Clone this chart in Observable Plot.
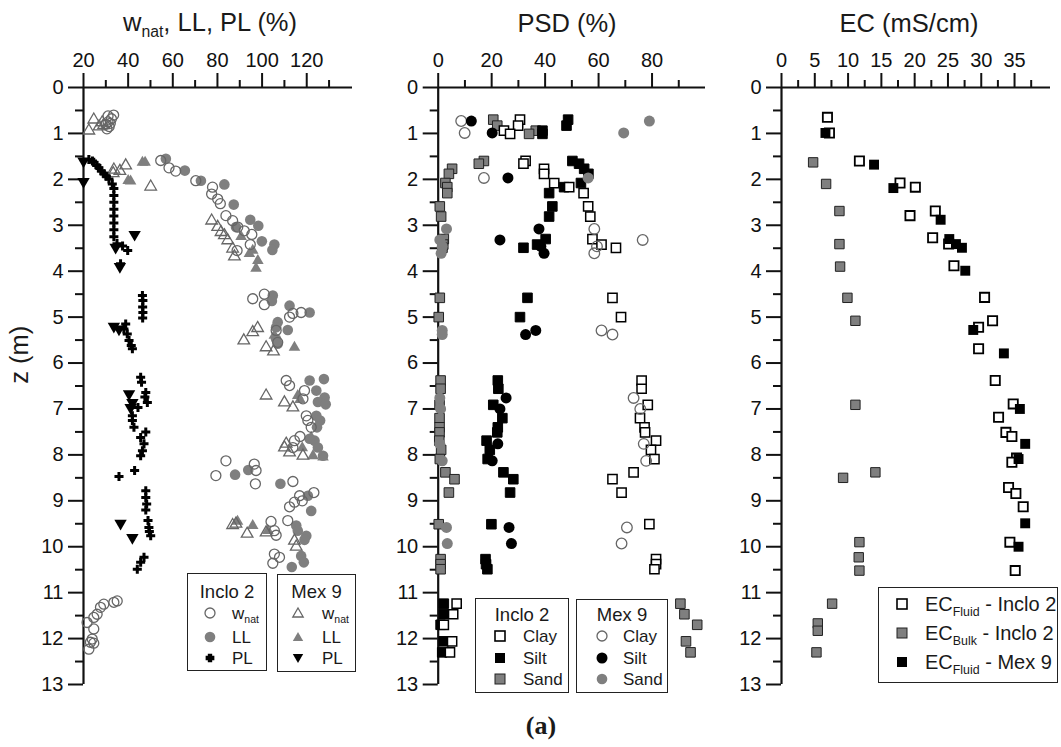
<!DOCTYPE html>
<html><head><meta charset="utf-8">
<script src="https://cdn.jsdelivr.net/npm/d3@7"></script>
<script src="https://cdn.jsdelivr.net/npm/@observablehq/plot@0.6"></script>
<style>
body{margin:0;background:#fff;}
#wrap{position:relative;width:1061px;height:747px;overflow:hidden;font-family:"Liberation Sans",Arial,sans-serif;color:#1a1a1a;background:#fff;}
#wrap svg.plot{position:absolute;top:0;}
#wrap svg.plot text{font-size:20px;font-family:"Liberation Sans",Arial,sans-serif;}
.t{position:absolute;white-space:nowrap;line-height:1;}
.sub{font-size:0.62em;position:relative;top:0.38em;}
.box{position:absolute;border:1.5px solid #222;background:#fff;box-sizing:border-box;}
.sym{position:absolute;width:16px;height:16px;overflow:visible;}
</style>
</head><body><div id="wrap"></div>
<script>
// ---------------- Panel 1: w_nat, LL, PL (%) vs depth z (m) ----------------
const inclo2Wnat = [[31,0.62],[32.5,0.68],[33.5,0.6],[31,0.75],[30,0.8],[31.5,0.85],[30.5,0.9],[32,0.78],
 [54.6,1.59],[58.3,1.75],[61.3,1.82],[70.3,2.03],[77.8,2.17],[77.4,2.32],[80.1,2.43],[81.3,2.53],[83.8,2.79],[86.8,2.9],[89.1,3.04],[92,3.12],[95.4,3.2],[94.7,3.42],[88.8,3.55],
 [95.8,4.6],[101,4.5],[101,4.73],[113.8,4.92],[117.5,4.9],[112.3,5.0],[106.3,5.29],[107,5.55],
 [110.8,6.38],[112.3,6.49],[119,6.6],[118.3,6.78],[119.8,7.15],[120.5,7.25],[122,7.4],[114.5,7.69],[113.8,7.84],[117,7.6],
 [83.8,8.13],[79.3,8.45],[96.5,8.2],[97.3,8.34],[97,8.63],[113.8,8.58],
 [123.2,8.82],[116.8,8.89],[114.5,9.03],[112.3,9.13],[118,9.0],
 [111.5,9.43],[104,9.45],[106.3,9.75],[105.5,9.65],
 [105.5,10.16],[104.8,10.36],[107.8,10.23],
 [35.1,11.18],[33.6,11.21],[29.1,11.25],[27.6,11.32],[26.1,11.47],[24.6,11.54],[21.6,11.65],[24.6,11.79],[23.9,12.01],[23.1,12.08],[24.6,12.1],[22.4,12.23]];
const inclo2LL = [[56.9,1.55],[65.4,1.81],[72.6,2.03],[83.1,2.11],[87.3,2.55],[88.3,3.04],[94.7,2.88],[98.3,3.01],[99.9,3.35],[105.5,3.42],[104.6,3.54],
 [104.8,4.53],[104.4,4.65],[112.3,4.75],[121.3,4.9],[107,5.11],[111.5,5.28],[106.3,5.22],[106.3,5.48],[107,5.58],
 [121.3,6.38],[127.7,6.35],[124.3,6.6],[128,6.75],[125,6.85],[128.5,6.9],[124.3,7.15],[124.6,7.4],[123.5,7.69],[125,7.84],[127.3,8.02],[121.3,7.65],[126,7.25],
 [87.9,8.43],[93.8,8.33],[108.2,8.63],
 [120.5,8.89],[122,9.22],
 [115.3,9.54],[116,9.65],[119.8,9.76],[119,9.85],
 [117.5,10.2],[118.7,10.34],[113.3,10.44]];
const inclo2PL = [[22.4,1.57],[24,1.6],[24.6,1.63],[26,1.7],[26.9,1.75],[28,1.82],[29.1,1.88],[30.2,1.93],[31.4,1.99],[32.9,2.1],
 [33.6,2.2],[33.6,2.35],[33.6,2.5],[33.6,2.65],[33.6,2.8],[33.6,2.95],[33.6,3.1],[33.6,3.25],
 [35,3.4],[37.5,3.45],[39.8,3.55],[36.6,3.84],
 [46.4,4.53],[46.6,4.64],[46.5,4.78],[46.6,4.9],[46.5,5.02],
 [38.9,5.15],[38.1,5.26],[39.6,5.37],[40.4,5.51],[41.4,5.62],[41.9,5.69],
 [45.6,6.31],[46,6.42],[47.9,6.64],[47.5,6.74],[48.6,6.86],[44.4,6.97],[41.9,7.15],[41.9,7.25],[42.6,7.4],[47.9,7.5],[45.6,7.62],[47.1,7.76],[46.4,7.91],[45.6,8.02],
 [35.9,8.47],[42.9,8.34],
 [47.9,8.78],[47.9,8.93],[48.3,9.07],[47.9,9.2],[48.9,9.43],[49.3,9.58],[49.5,9.67],[50.1,9.76],
 [47.1,10.23],[45.6,10.34],[44.1,10.49]];
const mex9Wnat = [[24.6,0.7],[22.4,0.94],[28.4,0.76],[29,0.82],[27,0.85],
 [33.6,1.79],[36.3,1.82],[38.9,1.7],[33.3,1.87],[50.1,2.16],
 [77.4,2.9],[80.1,3.04],[81.6,3.15],[83.1,3.22],[84.6,3.33],[86.8,3.51],[87.6,3.68],
 [91.8,5.51],[95.8,5.33],[98,5.24],[101.8,5.66],[105.1,5.75],
 [101.8,6.71],[110,6.86],[113.8,6.97],[110,7.84],[112.3,7.95],[110.8,7.76],[118.3,8.02],
 [88.3,9.5],[86.8,9.53],[93.3,9.72],[101.8,9.69],[114.5,9.87],[115.3,10.0]];
const mex9LL = [[46.4,1.63],[47.6,1.63],[41.1,2.04],[40,2.03],
 [90.6,3.25],[94.3,3.62],[95.8,3.55],[98.1,3.77],[97.3,3.94],
 [114.5,5.66],[105.5,5.4],
 [116,6.71],[117,6.8],[122,7.62],[122.8,8.02],[127.3,8.05],[118,7.85],
 [95.8,9.54],[102.6,9.65],[89,9.45]];
const mex9PL = [[20,1.6],[20,2.05],[42.9,3.2],[34.4,3.48],[36.3,3.9],[33.6,5.2],[35.9,5.26],[40.4,6.67],[41.9,6.86],[41.1,6.97],[36.6,9.49],[41.9,9.8]];

// ---------------- Panel 2: PSD (%) ----------------
const inclo2Depth = [0.70,0.83,0.94,1.01,1.60,1.66,1.77,1.88,2.08,2.17,2.30,2.59,2.81,3.30,3.42,3.49,4.58,5.00,6.38,6.56,6.91,7.20,7.40,7.51,7.69,7.89,8.09,8.38,8.53,8.82,9.51,10.27,10.38,10.49,11.24,11.47,11.70,12.06,12.30];
const inclo2Clay  = [30.6,29.9,24.6,26.9,32.7,31.9,39.6,39.6,43.4,49.0,54.4,56.1,56.9,57.7,61.1,66.5,65.2,68.4,76.1,76.1,78.4,75.5,77.2,77.4,81.5,79.6,80.9,73.1,65.2,68.6,79.0,81.5,81.5,80.9,6.9,5.6,2.1,5.2,4.4];
const inclo2Silt  = [48.6,48.0,39.0,39.0,50.2,52.7,54.6,56.2,53.4,47.1,41.5,42.7,41.5,40.2,37.0,31.9,33.4,30.6,22.3,22.5,20.6,24.0,22.3,22.1,18.1,19.3,18.5,24.4,28.1,26.9,19.9,17.7,17.9,18.4,2.1,2.1,0.9,2.1,1.5];
const inclo2Sand  = [20.6,22.1,36.5,34.0,17.1,15.2,5.2,4.0,2.7,3.4,3.4,0.6,1.1,2.1,1.9,1.6,0.6,0.2,0.9,0.9,0.5,0.5,0.5,0.5,0.4,1.1,0.6,2.7,6.1,4.0,0.2,0.9,0.9,0.9,90.6,92.1,96.9,92.7,94.4];
const mex9Depth = [0.73,0.99,1.97,3.08,3.32,3.46,3.61,5.29,5.38,6.76,7.00,7.76,8.13,9.58,9.93];
const mex9Clay  = [8.6,9.9,17.1,58.4,76.5,59.4,58.4,61.1,65.2,73.1,75.6,76.9,77.8,70.6,68.6];
const mex9Silt  = [12.4,20.2,26.1,37.7,23.1,38.4,39.6,36.5,32.7,25.4,23.1,22.3,20.2,26.5,27.4];
const mex9Sand  = [79.0,69.4,56.1,3.1,0.6,1.5,1.1,1.5,1.5,0.6,0.9,0.6,1.5,3.1,3.4];

// ---------------- Panel 3: EC (mS/cm) ----------------
const ecFluidInclo2 = [[6.9,0.65],[7.2,0.99],[11.7,1.6],[17.8,2.08],[20.1,2.17],[23.1,2.69],[19.3,2.79],[22.7,3.27],[25.1,3.41],[25.9,3.88],[30.5,4.57],[31.7,5.08],[29.6,5.22],[29.6,5.69],[32.1,6.38],[34.8,6.89],[32.6,7.18],[33.7,7.51],[34.6,7.6],[35.3,8.07],[34.6,8.16],[34.1,8.71],[35.2,8.84],[36.3,9.13],[34.3,9.9],[35.1,10.52]];
const ecBulkInclo2 = [[4.75,1.63],[6.7,2.1],[8.7,2.69],[8.7,3.41],[8.8,3.9],[9.9,4.58],[11.1,5.08],[11.1,6.91],[14.1,8.38],[9.25,8.5],[11.7,9.9],[11.6,10.23],[11.7,10.52],[7.6,11.24],[5.45,11.67],[5.45,11.83],[5.25,12.3]];
const ecFluidMex9 = [[6.6,0.99],[13.9,1.68],[16.8,2.19],[23.9,2.88],[25.2,3.3],[26.2,3.41],[27.1,3.49],[27.6,3.99],[28.8,5.28],[33.4,5.79],[35.8,7.0],[36.6,7.76],[35.6,8.09],[36.6,9.49],[35.6,10.0]];

// tick values
const depthTicks = d3.range(0, 14);
const depthMinor = d3.range(0.5, 13, 1);
const p1Major = [20,40,60,80,100,120], p1Minor = [30,50,70,90,110,130];
const p2Major = [0,20,40,60,80], p2Minor = [10,30,50,70,90];
const p3Major = [0,5,10,15,20,25,30,35], p3Minor = [2.5,7.5,12.5,17.5,22.5,27.5,32.5,37.5];

const wrap = document.getElementById("wrap");
const GRAY = "#7f7f7f", OUT = "#666";
const FS = 20;

function panel({left, width, marginLeft, marginRight, xDomain, major, minor, marks}) {
  const p = Plot.plot({
    width, height: 700, marginTop: 87, marginBottom: 16, marginLeft, marginRight,
    x: {domain: xDomain}, y: {domain: [0, 13], reverse: true},
    style: {fontFamily: "Liberation Sans, Arial, sans-serif", fontSize: FS + "px", color: "#111", background: "transparent", overflow: "visible"},
    marks: [
      Plot.axisX({anchor: "top", ticks: major, tickSize: 15, tickPadding: 6, strokeWidth: 2, label: null, fontSize: FS, tickFormat: d => String(d)}),
      Plot.axisX({anchor: "top", ticks: minor, tickSize: 8, strokeWidth: 2, label: null, tickFormat: () => ""}),
      Plot.axisY({anchor: "left", ticks: depthTicks, tickSize: 15, tickPadding: 5, strokeWidth: 2, label: null, fontSize: FS, tickFormat: d => String(d)}),
      Plot.axisY({anchor: "left", ticks: depthMinor, tickSize: 8, strokeWidth: 2, label: null, tickFormat: () => ""}),
      Plot.ruleY([0], {strokeWidth: 2.2, stroke: "#111"}),
      Plot.ruleX([xDomain[0]], {strokeWidth: 2.2, stroke: "#111"}),
      ...marks
    ]
  });
  p.classList.add("plot");
  p.style.left = left + "px";
  wrap.appendChild(p);
}
const X = d => d[0], Y = d => d[1];

panel({left: 0, width: 360, marginLeft: 83, marginRight: 8, xDomain: [20, 140.5], major: p1Major, minor: p1Minor, marks: [
  Plot.dot(inclo2LL, {x: X, y: Y, r: 5.3, fill: GRAY, stroke: "none"}),
  Plot.dot(mex9LL, {x: X, y: Y, symbol: "triangle", r: 4.3, fill: GRAY, stroke: "none"}),
  Plot.dot(inclo2Wnat, {x: X, y: Y, r: 5, fill: "none", stroke: OUT, strokeWidth: 1.3}),
  Plot.dot(mex9Wnat, {x: X, y: Y, symbol: "triangle", r: 4.3, fill: "none", stroke: OUT, strokeWidth: 1.3}),
  Plot.dot(inclo2PL, {x: X, y: Y, symbol: "cross", r: 3.8, fill: "#000", stroke: "none"}),
  Plot.dot(mex9PL, {x: X, y: Y, symbol: "triangle", rotate: 180, r: 4.6, fill: "#000", stroke: "none"})
]});

panel({left: 360, width: 350, marginLeft: 77.7, marginRight: 5, xDomain: [0, 100], major: p2Major, minor: p2Minor, marks: [
  Plot.dot(inclo2Depth, {x: inclo2Sand, y: inclo2Depth, symbol: "square", r: 5.4, fill: GRAY, stroke: "#222", strokeWidth: 1}),
  Plot.dot(inclo2Depth, {x: inclo2Silt, y: inclo2Depth, symbol: "square", r: 5.4, fill: "#000", stroke: "#000", strokeWidth: 1}),
  Plot.dot(inclo2Depth, {x: inclo2Clay, y: inclo2Depth, symbol: "square", r: 5.2, fill: "#fff", stroke: "#000", strokeWidth: 1.5}),
  Plot.dot(mex9Depth, {x: mex9Clay, y: mex9Depth, r: 5.3, fill: "none", stroke: OUT, strokeWidth: 1.3}),
  Plot.dot(mex9Depth, {x: mex9Silt, y: mex9Depth, r: 5.5, fill: "#000", stroke: "none"}),
  Plot.dot(mex9Depth, {x: mex9Sand, y: mex9Depth, r: 5.5, fill: GRAY, stroke: "none"})
]});

panel({left: 710, width: 351, marginLeft: 71, marginRight: 11, xDomain: [0, 40.4], major: p3Major, minor: p3Minor, marks: [
  Plot.dot(ecBulkInclo2, {x: X, y: Y, symbol: "square", r: 5.3, fill: GRAY, stroke: "#222", strokeWidth: 1}),
  Plot.dot(ecFluidInclo2, {x: X, y: Y, symbol: "square", r: 5.2, fill: "#fff", stroke: "#000", strokeWidth: 1.8}),
  Plot.dot(ecFluidMex9, {x: X, y: Y, symbol: "square", r: 5.6, fill: "#000", stroke: "none"})
]});

// ---------------- text & legends (HTML overlays) ----------------
function text(html, {x, y, size = 18, anchor = "start", weight = "normal", family}) {
  const d = document.createElement("div");
  d.className = "t";
  d.innerHTML = html;
  d.style.fontSize = size + "px";
  d.style.top = (y - 0.85 * size) + "px"; // y = baseline
  if (weight) d.style.fontWeight = weight;
  if (family) d.style.fontFamily = family;
  if (anchor === "middle") { d.style.left = (x - 300) + "px"; d.style.width = "600px"; d.style.textAlign = "center"; }
  else d.style.left = x + "px";
  wrap.appendChild(d);
  return d;
}
text('w<span class="sub">nat</span>, LL, PL (%)', {x: 210, y: 32, size: 25.5, anchor: "middle"});
text('PSD (%)', {x: 567, y: 33, size: 25.5, anchor: "middle"});
text('EC (mS/cm)', {x: 909, y: 33, size: 25.5, anchor: "middle"});
const zl = text('z (m)', {x: 0, y: 0, size: 25.5});
zl.style.left = "-15px"; zl.style.top = "342px"; zl.style.width = "70px"; zl.style.textAlign = "center";
zl.style.transform = "rotate(-90deg)";
text('(a)', {x: 541, y: 735, size: 26, anchor: "middle", weight: "bold", family: "'Liberation Serif','Times New Roman',serif"});

const SYM = {
  oc: '<circle cx="8" cy="8" r="5" fill="none" stroke="#666" stroke-width="1.3"/>',
  gc: '<circle cx="8" cy="8" r="5.3" fill="#7f7f7f"/>',
  bc: '<circle cx="8" cy="8" r="5.5" fill="#000"/>',
  pl: '<path d="M5.2 2.4h5.6v2.8h2.8v5.6h-2.8v2.8h-5.6v-2.8h-2.8v-5.6h2.8z" transform="translate(8 8) scale(0.78) translate(-8 -8)" fill="#000"/>',
  ot: '<path d="M8 3L13.2 12H2.8Z" fill="none" stroke="#666" stroke-width="1.3"/>',
  gt: '<path d="M8 3L13.2 12H2.8Z" fill="#7f7f7f"/>',
  dt: '<path d="M8 13L13.2 4H2.8Z" fill="#000"/>',
  os: '<rect x="3" y="3" width="10" height="10" fill="#fff" stroke="#000" stroke-width="1.6"/>',
  bs: '<rect x="3" y="3" width="10" height="10" fill="#000"/>',
  gs: '<rect x="3" y="3" width="10" height="10" fill="#7f7f7f" stroke="#222" stroke-width="1"/>'
};
function legend({left, top, width, height, title, titleY, symX, labelX, rows, size = 17, titleSize = 18.5}) {
  const b = document.createElement("div");
  b.className = "box";
  Object.assign(b.style, {left: left + "px", top: top + "px", width: width + "px", height: height + "px"});
  wrap.appendChild(b);
  if (title) text(title, {x: left + width / 2, y: titleY + 0.36 * titleSize, size: titleSize, anchor: "middle"});
  rows.forEach(r => {
    const s = document.createElementNS("http://www.w3.org/2000/svg", "svg");
    s.setAttribute("class", "sym");
    s.setAttribute("viewBox", "0 0 16 16");
    s.style.left = (symX - 8) + "px"; s.style.top = (r.y - 8) + "px";
    s.innerHTML = SYM[r.sym];
    wrap.appendChild(s);
    text(r.label, {x: labelX, y: r.y + 0.36 * size, size});
  });
}
const W = 'w<span class="sub">nat</span>';
legend({left: 187, top: 573, width: 80, height: 98, title: "Inclo 2", titleY: 592, symX: 210, labelX: 232,
  rows: [{sym: "oc", label: W, y: 613}, {sym: "gc", label: "LL", y: 637}, {sym: "pl", label: "PL", y: 658}]});
legend({left: 277, top: 574, width: 79, height: 98, title: "Mex 9", titleY: 592, symX: 298, labelX: 322,
  rows: [{sym: "ot", label: W, y: 613}, {sym: "gt", label: "LL", y: 637}, {sym: "dt", label: "PL", y: 658}]});
legend({left: 475, top: 598, width: 94, height: 95, title: "Inclo 2", titleY: 615, symX: 500, labelX: 523,
  rows: [{sym: "os", label: "Clay", y: 636}, {sym: "bs", label: "Silt", y: 658}, {sym: "gs", label: "Sand", y: 679}]});
legend({left: 576, top: 599, width: 92, height: 94, title: "Mex 9", titleY: 615, symX: 602, labelX: 623,
  rows: [{sym: "oc", label: "Clay", y: 636}, {sym: "bc", label: "Silt", y: 658}, {sym: "gc", label: "Sand", y: 679}]});
legend({left: 878, top: 587, width: 180, height: 96, title: null, symX: 902, labelX: 925, size: 20,
  rows: [{sym: "os", label: 'EC<span class="sub">Fluid</span> - Inclo 2', y: 604},
         {sym: "gs", label: 'EC<span class="sub">Bulk</span> - Inclo 2', y: 633},
         {sym: "bs", label: 'EC<span class="sub">Fluid</span> - Mex 9', y: 662}]});
</script>
</body></html>
